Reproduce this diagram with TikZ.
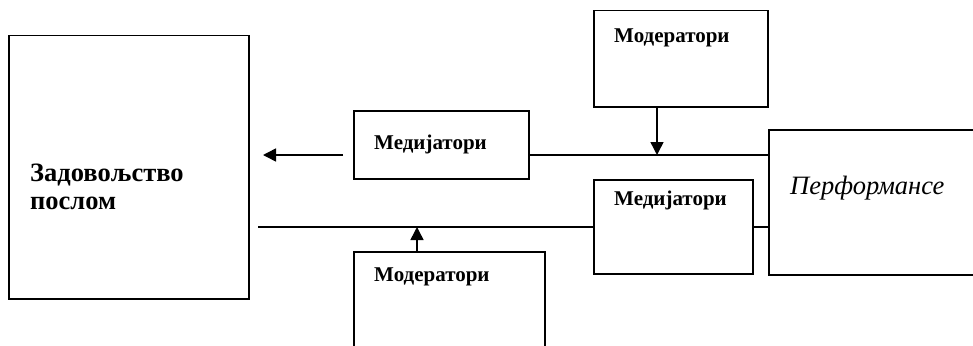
\documentclass[tikz,border=0pt]{standalone}
\usepackage{fontspec}
\setmainfont{Liberation Serif}
\usetikzlibrary{arrows.meta}
\begin{document}
\begin{tikzpicture}[x=1pt,y=-1pt,
  box/.style={draw,line width=1.5pt,inner sep=0pt,anchor=north west},
  lbl/.style={anchor=west,inner sep=0pt,font=\fontsize{21}{24}\selectfont\bfseries},
  conn/.style={line width=1.5pt},
  arr/.style={line width=1.5pt,-{Triangle[length=13pt,width=13pt]}}]
\useasboundingbox (0,0) rectangle (973,345);
\clip (0,0) rectangle (973,345);
% boxes
\node[box,minimum width=240pt,minimum height=263pt] (zad) at (8,35) {};
\node[box,minimum width=175pt,minimum height=68pt] (med1) at (353,110) {};
\node[box,minimum width=174pt,minimum height=96pt] (modtop) at (593,10) {};
\node[box,minimum width=240pt,minimum height=145pt] (perf) at (768,129) {};
\node[box,minimum width=159pt,minimum height=94pt] (med2) at (593,179) {};
\node[box,minimum width=191pt,minimum height=120pt] (modbot) at (353,251) {};
% texts
\node[anchor=west,inner sep=0pt,font=\fontsize{26.5}{28}\selectfont\bfseries,align=left] (zadt) at (30,187) {Задовољство\\послом};
\node[lbl] (med1t) at (374,144) {Медијатори};
\node[lbl] (modtopt) at (614,38) {Модератори};
\node[lbl] (med2t) at (614,200) {Медијатори};
\node[lbl] (modbott) at (374,277) {Модератори};
\node[anchor=west,inner sep=0pt,font=\fontsize{26.5}{30}\selectfont\itshape] (perft) at (790,188) {Перформансе};
% connector coordinates
\coordinate (a1s) at (343,155);
\coordinate (a1e) at (263,155);
\coordinate (l1s) at (528,155);
\coordinate (l1e) at (768,155);
\coordinate (a2s) at (657,106);
\coordinate (a2e) at (657,155);
\coordinate (l2s) at (258,227);
\coordinate (l2e) at (593,227);
\coordinate (l3s) at (752,227);
\coordinate (l3e) at (768,227);
\coordinate (a3s) at (417,251);
\coordinate (a3e) at (417,227);
% connectors
\draw[arr] (a1s) -- (a1e);
\draw[conn] (l1s) -- (l1e);
\draw[arr] (a2s) -- (a2e);
\draw[conn] (l2s) -- (l2e);
\draw[conn] (l3s) -- (l3e);
\draw[arr] (a3s) -- (a3e);
\end{tikzpicture}
\end{document}
